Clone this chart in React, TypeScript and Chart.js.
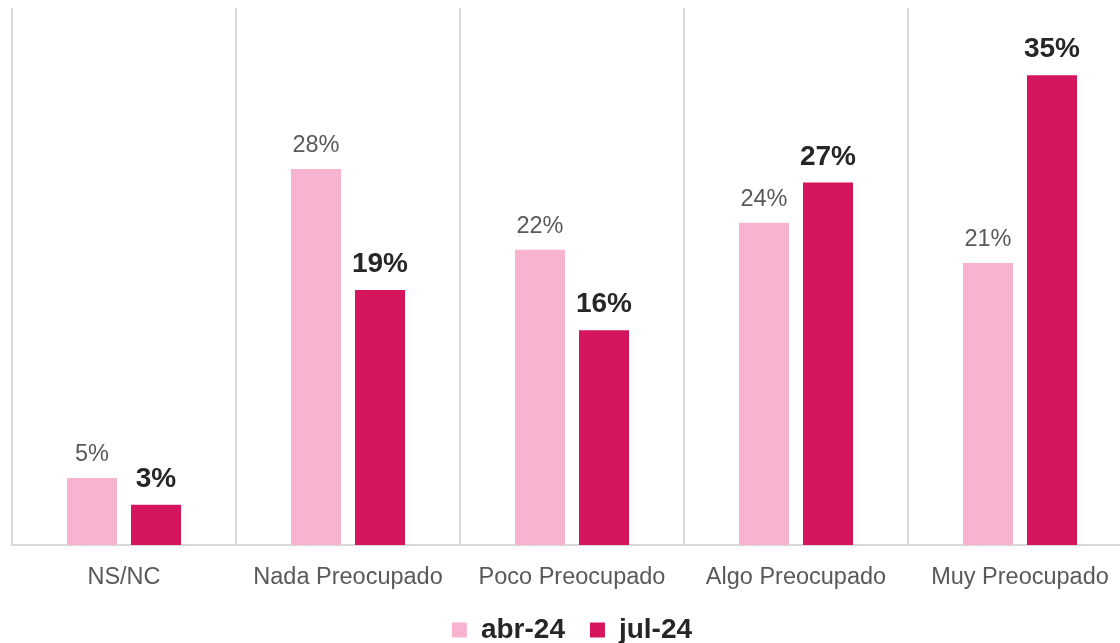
import React, { useEffect, useRef } from "react";
import { Chart, registerables } from "chart.js";

Chart.register(...registerables);

const categories = ["NS/NC", "Nada Preocupado", "Poco Preocupado", "Algo Preocupado", "Muy Preocupado"];
const seriesNames = ["abr-24", "jul-24"];
const abr24 = [5, 28, 22, 24, 21];
const jul24 = [3, 19, 16, 27, 35];
const yMax = 40;

const FONT = '"Liberation Sans", Arial, Helvetica, sans-serif';
const PINK_LIGHT = "#F7B3D0";
const PINK_DARK = "#D5155D";
const GRID = "#D9D9D9";

const labelPlugin = {
  id: "valueLabels",
  afterDatasetsDraw(chart: any) {
    const ctx = chart.ctx;
    ctx.save();
    ctx.textAlign = "center";
    ctx.textBaseline = "alphabetic";
    chart.data.datasets.forEach((ds: any, di: number) => {
      const meta = chart.getDatasetMeta(di);
      meta.data.forEach((bar: any, i: number) => {
        const v = ds.data[i];
        if (di === 0) {
          ctx.font = `normal 23.5px ${FONT}`;
          ctx.fillStyle = "#595959";
          ctx.fillText(`${v}%`, bar.x, bar.y - 17);
        } else {
          ctx.font = `bold 28px ${FONT}`;
          ctx.fillStyle = "#262626";
          ctx.fillText(`${v}%`, bar.x, bar.y - 18);
        }
      });
    });
    ctx.restore();
  },
};

export default function App() {
  const ref = useRef<HTMLCanvasElement | null>(null);
  useEffect(() => {
    if (!ref.current) return;
    const chart = new Chart(ref.current, {
      type: "bar",
      data: {
        labels: categories,
        datasets: [
          {
            label: seriesNames[0],
            data: abr24,
            backgroundColor: PINK_LIGHT,
            borderWidth: 0,
            barPercentage: 0.78125,
            categoryPercentage: 0.5714,
          },
          {
            label: seriesNames[1],
            data: jul24,
            backgroundColor: PINK_DARK,
            borderWidth: 0,
            barPercentage: 0.78125,
            categoryPercentage: 0.5714,
          },
        ],
      },
      options: {
        animation: false,
        responsive: false,
        maintainAspectRatio: false,
        layout: { padding: { left: 12, right: 8, top: 8, bottom: 0 } },
        plugins: {
          tooltip: { enabled: false },
          legend: {
            position: "bottom",
            labels: {
              boxWidth: 15,
              boxHeight: 15,
              padding: 25,
              color: "#262626",
              font: { family: FONT, size: 28, weight: "bold" },
            },
          },
        },
        scales: {
          x: {
            grid: {
              display: true,
              offset: true,
              drawTicks: false,
              color: GRID,
              lineWidth: 2,
            },
            border: { display: true, color: GRID, width: 2 },
            ticks: {
              padding: 18,
              color: "#595959",
              font: { family: FONT, size: 23.5 },
              maxRotation: 0,
              autoSkip: false,
            },
            afterFit: (scale: any) => {
              scale.height = 46;
            },
          },
          y: {
            display: false,
            min: 0,
            max: yMax,
          },
        },
      },
      plugins: [labelPlugin],
    });
    return () => chart.destroy();
  }, []);

  return (
    <div
      style={{
        position: "fixed",
        left: 0,
        top: 0,
        width: 1120,
        height: 643,
        overflow: "hidden",
        background: "#fff",
      }}
    >
      <canvas ref={ref} width={1140} height={654} style={{ width: 1140, height: 654, display: "block" }} />
    </div>
  );
}
